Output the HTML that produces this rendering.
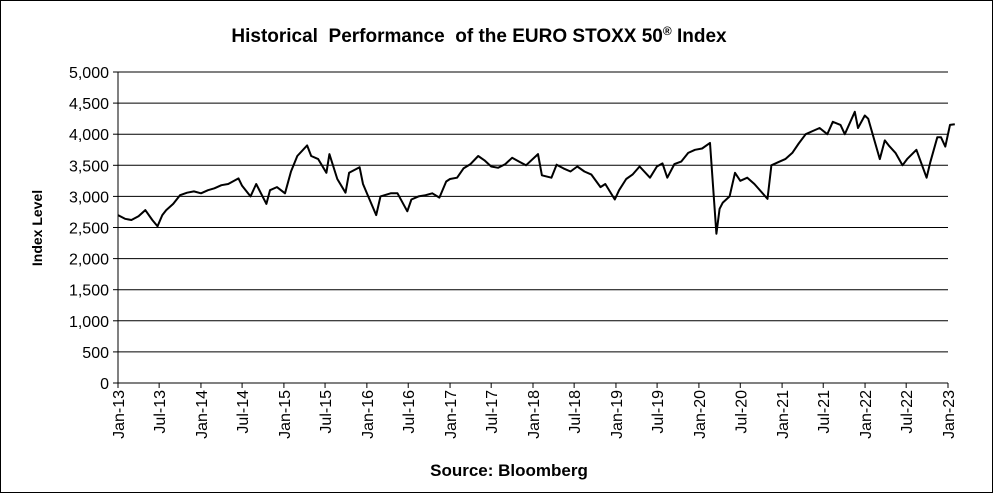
<!DOCTYPE html>
<html><head><meta charset="utf-8"><style>
body{margin:0;background:#fff;font-family:"Liberation Sans",Arial,sans-serif}
#wrap{position:relative;width:993px;height:493px;box-sizing:border-box;border:1px solid #000}
</style></head><body>
<div id="wrap">
<svg id="chart" width="991" height="491" style="position:absolute;left:0;top:0"></svg>
</div>
<script>
const dates=["2013-01-01","2013-02-01","2013-03-01","2013-04-01","2013-05-01","2013-06-01","2013-06-24","2013-07-15","2013-08-01","2013-09-01","2013-10-01","2013-11-01","2013-12-01",
"2014-01-01","2014-02-01","2014-03-01","2014-04-01","2014-05-01","2014-06-15","2014-07-01","2014-08-07","2014-09-01","2014-10-16","2014-11-01","2014-12-01",
"2015-01-06","2015-02-01","2015-03-01","2015-04-13","2015-05-01","2015-06-01","2015-07-07","2015-07-20","2015-08-24","2015-09-29","2015-10-15","2015-11-30","2015-12-15",
"2016-01-01","2016-02-11","2016-03-01","2016-04-15","2016-05-15","2016-06-27","2016-07-15","2016-08-15","2016-09-15","2016-10-15","2016-11-15","2016-12-15",
"2017-01-01","2017-02-01","2017-03-01","2017-04-01","2017-05-05","2017-06-01","2017-07-01","2017-08-01","2017-09-01","2017-10-01","2017-11-01","2017-12-01",
"2018-01-23","2018-02-09","2018-03-23","2018-04-15","2018-05-15","2018-06-15","2018-07-15","2018-08-15","2018-09-15","2018-10-25","2018-11-15","2018-12-27",
"2019-01-15","2019-02-15","2019-03-15","2019-04-15","2019-05-31","2019-06-30","2019-07-25","2019-08-15","2019-09-15","2019-10-15","2019-11-15","2019-12-15",
"2020-01-15","2020-02-19","2020-03-18","2020-04-01","2020-04-15","2020-05-15","2020-06-08","2020-07-01","2020-08-01","2020-09-01","2020-10-29","2020-11-15","2020-12-15",
"2021-01-15","2021-02-15","2021-03-15","2021-04-15","2021-05-15","2021-06-15","2021-07-19","2021-08-12","2021-09-15","2021-10-04","2021-11-17","2021-12-01","2021-12-31",
"2022-01-15","2022-03-07","2022-03-29","2022-04-15","2022-05-15","2022-06-15","2022-07-05","2022-08-15","2022-09-29","2022-10-15","2022-11-15","2022-12-01","2022-12-20","2023-01-10","2023-01-31"];
const values=[2700,2640,2620,2680,2780,2620,2520,2700,2780,2880,3020,3060,3080,
3050,3100,3130,3180,3200,3290,3170,3000,3200,2880,3100,3150,
3050,3400,3650,3820,3650,3600,3380,3680,3280,3060,3380,3470,3200,
3050,2700,3000,3050,3050,2760,2950,3000,3020,3050,2980,3240,
3280,3300,3450,3520,3650,3580,3480,3460,3520,3620,3560,3500,
3680,3340,3300,3510,3450,3400,3480,3400,3350,3150,3200,2950,
3100,3280,3350,3480,3300,3480,3530,3300,3520,3560,3700,3750,
3770,3860,2400,2800,2900,3000,3380,3250,3300,3200,2960,3500,3550,
3600,3700,3850,4000,4050,4100,4000,4200,4150,4000,4360,4100,4300,
4250,3600,3900,3820,3700,3500,3600,3750,3300,3550,3950,3950,3800,4150,4160];
const yTicks=[0,500,1000,1500,2000,2500,3000,3500,4000,4500,5000];
const xTickLabels=["Jan-13","Jul-13","Jan-14","Jul-14","Jan-15","Jul-15","Jan-16","Jul-16","Jan-17","Jul-17","Jan-18","Jul-18","Jan-19","Jul-19","Jan-20","Jul-20","Jan-21","Jul-21","Jan-22","Jul-22","Jan-23"];

const NS="http://www.w3.org/2000/svg";
const svg=document.getElementById('chart');
const L=117,R=947,T=71,B=382;
const t0=Date.UTC(2013,0,1),t1=Date.UTC(2023,0,1);
function xs(d){const p=d.split('-');const t=Date.UTC(+p[0],+p[1]-1,+p[2]);return L+(t-t0)/(t1-t0)*(R-L);}
function ys(v){return B-v/5000*(B-T);}
function mk(tag,attrs,parent){const e=document.createElementNS(NS,tag);for(const k in attrs)e.setAttribute(k,attrs[k]);(parent||svg).appendChild(e);return e;}
function label(x){const m=x.split('-');const mon=m[0]==="Jan"?0:6;return "20"+m[1]+"-"+String(mon+1).padStart(2,'0')+"-01";}

let t=mk('text',{x:478,y:41,'text-anchor':'middle','font-size':'19','font-weight':'bold'});


t.innerHTML='Historical&#160; Performance&#160; of the EURO STOXX 50<tspan dy="-7" font-size="12">®</tspan><tspan dy="7"> Index</tspan>';

yTicks.forEach(v=>{
  const y=ys(v);
  const g=mk('line',{x1:L,x2:R,y1:y,y2:y,stroke:'#000','stroke-width':1});
  
  
  mk('line',{x1:L-5,x2:L,y1:y,y2:y,stroke:'#000'});
  const tx=mk('text',{x:L-9,y:y+6,'text-anchor':'end','font-size':'16'});
  
  
  tx.textContent=v.toLocaleString('en-US');
});
mk('line',{x1:L,x2:L,y1:T,y2:B,stroke:'#000'});
xTickLabels.forEach(s=>{
  const x=xs(label(s));
  mk('line',{x1:x,x2:x,y1:B,y2:B+5,stroke:'#000'});
  const tx=mk('text',{x:0,y:0,'text-anchor':'end','font-size':'16',transform:`translate(${x+6},${B+7}) rotate(-90)`});
  
  
  tx.textContent=s;
});
const yl=mk('text',{x:0,y:0,'text-anchor':'middle','font-size':'14','font-weight':'bold',transform:'translate(41,227) rotate(-90)'});


yl.textContent='Index Level';
const xl=mk('text',{x:508,y:475,'text-anchor':'middle','font-size':'17','font-weight':'bold'});


xl.textContent='Source: Bloomberg';
const pts=dates.map((d,i)=>xs(d).toFixed(1)+','+ys(values[i]).toFixed(1)).join(' ');
const line=mk('polyline',{points:pts,fill:'none',stroke:'#000','stroke-width':2,'stroke-linejoin':'round'});


</script>
</body></html>
